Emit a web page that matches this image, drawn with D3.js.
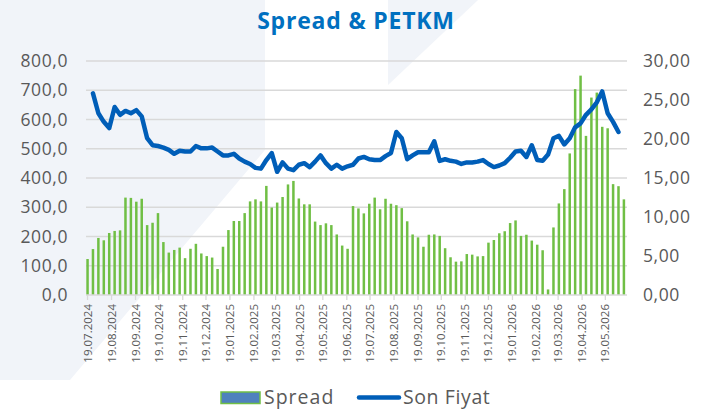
<!DOCTYPE html>
<html>
<head>
<meta charset="utf-8">
<script src="https://cdn.jsdelivr.net/npm/d3@7"></script>
<style>
  body { margin: 0; background: #fff; }
  svg { display: block; font-family: "Open Sans", sans-serif; }
</style>
</head>
<body>
<script>
// weekly series, first week 19.07.2024
let startDate = "19.07.2024";
let spread = [123, 157, 195, 187, 212, 219, 221, 333, 332, 319, 329, 239, 247, 280, 181, 145, 154, 162, 126, 158,
    175, 142, 133, 128, 89, 165, 222, 253, 253, 280, 320, 327, 320, 373, 299, 316, 335, 378, 390, 330,
    310, 310, 251, 239, 245, 239, 207, 169, 158, 304, 296, 279, 312, 333, 293, 329, 312, 307, 297, 252,
    207, 197, 165, 206, 207, 202, 160, 129, 114, 115, 140, 138, 132, 133, 179, 188, 211, 218, 246, 255,
    202, 206, 186, 172, 153, 19, 231, 313, 362, 484, 704, 750, 544, 675, 692, 575, 570, 379, 372, 327];
let sonFiyat = [null, 25.85, 23.3, 22.2, 21.4, 24.1, 23.1, 23.6, 23.3, 23.7, 22.9, 20.1, 19.2, 19.1, 18.9, 18.6, 18.1, 18.5, 18.4, 18.4,
    19.1, 18.8, 18.8, 18.9, 18.4, 17.9, 17.9, 18.1, 17.5, 17.1, 16.8, 16.3, 16.2, 17.3, 18.2, 15.8, 17.0, 16.2, 16.0, 16.7,
    16.9, 16.4, 17.1, 17.9, 16.9, 16.2, 16.7, 16.2, 16.5, 16.7, 17.5, 17.7, 17.4, 17.3, 17.3, 17.8, 18.2, 20.9, 20.1, 17.4,
    17.9, 18.3, 18.3, 18.3, 19.7, 17.2, 17.4, 17.2, 17.1, 16.8, 17.0, 17.0, 17.1, 17.3, 16.8, 16.4, 16.6, 16.9, 17.6, 18.4,
    18.5, 17.7, 19.2, 17.3, 17.2, 18.0, 20.1, 20.4, 19.3, 20.1, 21.5, 22.0, 23.1, 23.8, 24.7, 26.1, 23.3, 22.2, 20.9, null];
let leftTicks = [0, 100, 200, 300, 400, 500, 600, 700, 800];
let rightTicks = [0, 5, 10, 15, 20, 25, 30];
let monthTicks = ["19.07.2024", "19.08.2024", "19.09.2024", "19.10.2024", "19.11.2024", "19.12.2024",
    "19.01.2025", "19.02.2025", "19.03.2025", "19.04.2025", "19.05.2025", "19.06.2025", "19.07.2025",
    "19.08.2025", "19.09.2025", "19.10.2025", "19.11.2025", "19.12.2025", "19.01.2026", "19.02.2026",
    "19.03.2026", "19.04.2026", "19.05.2026"];

let W = 715, H = 409;
let plot = { left: 86, right: 627, top: 61, bottom: 295 };

let parse = d3.timeParse("%d.%m.%Y");
let t0 = parse(startDate);
let data = spread.map((v, i) => ({
    date: d3.timeDay.offset(t0, 7 * i),
    spread: v,
    price: sonFiyat[i]
}));

let svg = d3.select("body").append("svg")
    .attr("width", W)
    .attr("height", H);

// faint background shapes
svg.append("path")
    .attr("d", "M0,0 L265,0 L265,150 L70,380 L0,380 Z")
    .attr("fill", "#f1f4f9");
svg.append("path")
    .attr("d", "M388,0 L478,0 L388,85 Z")
    .attr("fill", "#f1f4f9");

let x = d3.scaleTime()
    .domain([d3.timeDay.offset(data[0].date, -2), d3.timeDay.offset(data[data.length - 1].date, 4)])
    .range([plot.left, plot.right]);
let yL = d3.scaleLinear().domain([0, 800]).range([plot.bottom, plot.top]);
let yR = d3.scaleLinear().domain([0, 30]).range([plot.bottom, plot.top]);

// gridlines
svg.append("g").selectAll("line")
    .data(leftTicks.slice(1))
    .enter().append("line")
    .attr("x1", plot.left).attr("x2", plot.right)
    .attr("y1", d => yL(d)).attr("y2", d => yL(d))
    .attr("stroke", "#d9d9d9")
    .attr("stroke-width", 1.3);

// left axis labels
svg.append("g").selectAll("text")
    .data(leftTicks)
    .enter().append("text")
    .attr("x", 68)
    .attr("y", d => yL(d) + 6)
    .attr("text-anchor", "end")
    .attr("fill", "#595959")
    .style("font-size", "17.5px")
    .style("letter-spacing", "0.6px")
    .text(d => d3.format(".1f")(d).replace(".", ","));

// right axis labels
svg.append("g").selectAll("text")
    .data(rightTicks)
    .enter().append("text")
    .attr("x", 643)
    .attr("y", d => yR(d) + 6)
    .attr("fill", "#595959")
    .style("font-size", "17.5px")
    .style("letter-spacing", "0.6px")
    .text(d => d3.format(".2f")(d).replace(".", ","));

// bars
svg.append("g").selectAll("rect")
    .data(data)
    .enter().append("rect")
    .attr("x", d => x(d.date) - 1.25)
    .attr("y", d => yL(d.spread))
    .attr("width", 2.5)
    .attr("height", d => plot.bottom - yL(d.spread))
    .attr("fill", "#70bf45");

// x axis line and ticks
svg.append("line")
    .attr("x1", plot.left).attr("x2", plot.right)
    .attr("y1", plot.bottom).attr("y2", plot.bottom)
    .attr("stroke", "#d9d9d9")
    .attr("stroke-width", 1.3);

let xt = svg.append("g").selectAll("g")
    .data(monthTicks)
    .enter().append("g")
    .attr("transform", d => "translate(" + x(parse(d)) + "," + plot.bottom + ")");
xt.append("line")
    .attr("y1", 0).attr("y2", 5)
    .attr("stroke", "#d9d9d9")
    .attr("stroke-width", 1.3);
xt.append("text")
    .attr("transform", "translate(4,9) rotate(-90)")
    .attr("text-anchor", "end")
    .attr("fill", "#595959")
    .style("font-size", "11.5px")
    .text(d => d);

// line
let line = d3.line()
    .defined(d => d.price != null)
    .x(d => x(d.date))
    .y(d => yR(d.price));
svg.append("path")
    .datum(data)
    .attr("d", line)
    .attr("fill", "none")
    .attr("stroke", "#005eb8")
    .attr("stroke-width", 4.5)
    .attr("stroke-linejoin", "round")
    .attr("stroke-linecap", "round");

// title
svg.append("text")
    .attr("x", 356)
    .attr("y", 29)
    .attr("text-anchor", "middle")
    .attr("fill", "#0070c0")
    .style("font-size", "23px")
    .style("font-weight", "bold")
    .style("letter-spacing", "0.8px")
    .text("Spread & PETKM");

// legend
let lg = svg.append("g");
lg.append("rect")
    .attr("x", 221).attr("y", 392)
    .attr("width", 39).attr("height", 11.5)
    .attr("fill", "#4f81bd")
    .attr("stroke", "#70bf45")
    .attr("stroke-width", 1.5);
lg.append("text")
    .attr("x", 264).attr("y", 404)
    .attr("fill", "#595959")
    .style("font-size", "19.5px")
    .style("letter-spacing", "1px")
    .text("Spread");
lg.append("line")
    .attr("x1", 359).attr("x2", 399)
    .attr("y1", 397.5).attr("y2", 397.5)
    .attr("stroke", "#005eb8")
    .attr("stroke-width", 4.5)
    .attr("stroke-linecap", "round");
lg.append("text")
    .attr("x", 403).attr("y", 404)
    .attr("fill", "#595959")
    .style("font-size", "19.5px")
    .style("letter-spacing", "0.6px")
    .text("Son Fiyat");
</script>
</body>
</html>
